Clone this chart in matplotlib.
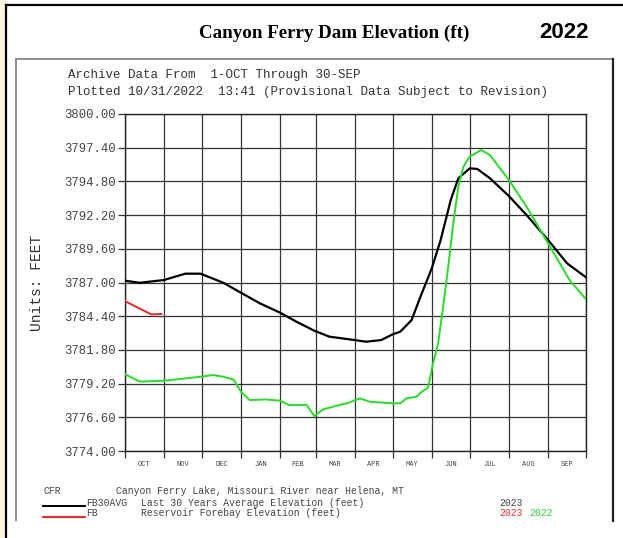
import numpy as np
import matplotlib
matplotlib.use("Agg")
import matplotlib.pyplot as plt
from matplotlib.lines import Line2D
from matplotlib.patches import Rectangle

# ---------------- data ----------------
months = ["OCT", "NOV", "DEC", "JAN", "FEB", "MAR", "APR", "MAY", "JUN", "JUL", "AUG", "SEP"]
month_days = [31, 30, 31, 31, 28, 31, 30, 31, 30, 31, 31, 30]
y_ticks = [3774.00, 3776.60, 3779.20, 3781.80, 3784.40, 3787.00,
           3789.60, 3792.20, 3794.80, 3797.40, 3800.00]

# 30-year average (black), day of water year vs elevation
avg_days = [0, 12, 31, 48, 60, 78, 92, 107, 123, 136, 150, 162, 182, 191, 203,
            212, 218, 227, 234, 243, 250, 258, 264, 273, 279, 289, 304, 318, 335, 350, 365]
avg_elev = [3787.14, 3786.98, 3787.19, 3787.68, 3787.68, 3786.98, 3786.21, 3785.39,
            3784.67, 3783.97, 3783.28, 3782.82, 3782.56, 3782.43, 3782.56, 3783.00,
            3783.20, 3784.10, 3785.90, 3788.10, 3790.28, 3793.37, 3795.04, 3795.81,
            3795.76, 3795.04, 3793.67, 3792.20, 3790.28, 3788.48, 3787.40]

# 2022 forebay elevation (green)
wy22_days = [0, 12, 31, 60, 70, 78, 86, 92, 99, 112, 123, 130, 144, 150, 157, 170,
             176, 186, 194, 212, 218, 223, 231, 235, 240, 244, 248, 252, 256, 260,
             264, 268, 273, 282, 289, 304, 318, 335, 352, 365]
wy22_elev = [3779.94, 3779.35, 3779.42, 3779.73, 3779.86, 3779.73, 3779.52, 3778.57,
             3777.93, 3777.98, 3777.88, 3777.55, 3777.55, 3776.70, 3777.21, 3777.55,
             3777.68, 3778.06, 3777.80, 3777.68, 3777.68, 3778.06, 3778.19, 3778.57,
             3778.88, 3780.76, 3782.31, 3785.13, 3788.22, 3791.57, 3794.39, 3795.93,
             3796.71, 3797.22, 3796.84, 3794.91, 3792.85, 3790.02, 3787.19, 3785.70]

# 2023 forebay elevation (red)
wy23_days = [0, 9, 21, 29]
wy23_elev = [3785.57, 3785.13, 3784.54, 3784.57]

# ---------------- figure ----------------
W, H = 623, 538
fig = plt.figure(figsize=(W / 100, H / 100), dpi=100)
fig.patch.set_facecolor("white")

def fx(x):
    return x / W

def fy(y):
    return 1 - y / H

# cream strip at the left
fig.add_artist(Rectangle((0, 0), fx(6), 1, transform=fig.transFigure,
                         facecolor="#fdf5e2", edgecolor="none", zorder=0))
# outer frame
fig.add_artist(Line2D([fx(6), fx(6)], [fy(5), 0], transform=fig.transFigure,
                      color="black", lw=1.6))
fig.add_artist(Line2D([fx(6), 1], [fy(5), fy(5)], transform=fig.transFigure,
                      color="black", lw=1.6))
# inner frame
fig.add_artist(Line2D([fx(16), fx(16)], [fy(59), fy(520)], transform=fig.transFigure,
                      color="#8a8a8a", lw=1.4))
fig.add_artist(Line2D([fx(16), fx(613)], [fy(59), fy(59)], transform=fig.transFigure,
                      color="#8a8a8a", lw=1.4))
fig.add_artist(Line2D([fx(613), fx(613)], [fy(59), fy(521)], transform=fig.transFigure,
                      color="#222222", lw=1.6))

# titles
fig.text(fx(334), fy(33), "Canyon Ferry Dam Elevation (ft)", ha="center", va="center",
         fontfamily="Liberation Serif", fontweight="bold", fontsize=13.7)
fig.text(fx(564), fy(32), "2022", ha="center", va="center",
         fontfamily="Liberation Sans", fontweight="bold", fontsize=16)

mono = "Liberation Mono"
fig.text(fx(68), fy(75), "Archive Data From  1-OCT Through 30-SEP", ha="left", va="center",
         fontfamily=mono, fontsize=9, color="#333333")
fig.text(fx(68), fy(92), "Plotted 10/31/2022  13:41 (Provisional Data Subject to Revision)",
         ha="left", va="center", fontfamily=mono, fontsize=9, color="#333333")

# ---------------- axes ----------------
ax = fig.add_axes([fx(124.7), fy(451), (586 - 124.7) / W, (451 - 114) / H])
ax.set_xlim(0, sum(month_days))
ax.set_ylim(y_ticks[0], y_ticks[-1])

bounds = np.concatenate([[0], np.cumsum(month_days)])
centers = (bounds[:-1] + bounds[1:]) / 2

ax.set_xticks(bounds)
ax.set_xticklabels([])
ax.set_xticks(centers, minor=True)
ax.set_xticklabels(months, minor=True, fontfamily=mono, fontsize=5, color="#444444")
ax.tick_params(axis="x", which="major", direction="out", length=5, width=0.9, color="#333333")
ax.tick_params(axis="x", which="minor", length=0, pad=7)

ax.set_yticks(y_ticks)
ax.set_yticklabels([f"{v:.2f}" for v in y_ticks], fontfamily=mono, fontsize=8.8, color="#444444")
ax.tick_params(axis="y", direction="out", length=5, width=0.9, color="#333333", pad=1.5)

ax.grid(True, which="major", color="#333333", lw=0.9)
for s in ax.spines.values():
    s.set_color("#222222")
    s.set_linewidth(1.0)

ax.plot(avg_days, avg_elev, color="black", lw=1.6, zorder=3)
ax.plot(wy22_days, wy22_elev, color="#22e022", lw=1.4, zorder=4)
ax.plot(wy23_days, wy23_elev, color="#ff2020", lw=1.4, zorder=4)

fig.text(fx(37), fy(283), "Units: FEET", rotation=90, ha="center", va="center",
         fontfamily=mono, fontsize=10.5, color="#333333")

# ---------------- legend block ----------------
lf = 7
tc = "#444444"
fig.text(fx(44), fy(491.5), "CFR", ha="left", va="center", fontfamily=mono, fontsize=lf, color=tc)
fig.text(fx(116), fy(491.5), "Canyon Ferry Lake, Missouri River near Helena, MT", ha="left",
         va="center", fontfamily=mono, fontsize=lf, color=tc)
fig.add_artist(Line2D([fx(43), fx(85)], [fy(506), fy(506)], transform=fig.transFigure,
                      color="black", lw=1.4))
fig.add_artist(Line2D([fx(43), fx(85)], [fy(517.3), fy(517.3)], transform=fig.transFigure,
                      color="#ff2020", lw=1.4))
fig.text(fx(86), fy(502.5), "FB30AVG", ha="left", va="center", fontfamily=mono, fontsize=lf, color=tc)
fig.text(fx(141), fy(502.5), "Last 30 Years Average Elevation (feet)", ha="left", va="center",
         fontfamily=mono, fontsize=lf, color=tc)
fig.text(fx(499), fy(502.5), "2023", ha="left", va="center", fontfamily=mono, fontsize=lf, color=tc)
fig.text(fx(86), fy(513.3), "FB", ha="left", va="center", fontfamily=mono, fontsize=lf, color=tc)
fig.text(fx(141), fy(513.3), "Reservoir Forebay Elevation (feet)", ha="left", va="center",
         fontfamily=mono, fontsize=lf, color=tc)
fig.text(fx(499), fy(513.3), "2023", ha="left", va="center", fontfamily=mono, fontsize=lf, color="#ff3030")
fig.text(fx(529), fy(513.3), "2022", ha="left", va="center", fontfamily=mono, fontsize=lf, color="#30e030")

fig.savefig("out.png", dpi=100)
